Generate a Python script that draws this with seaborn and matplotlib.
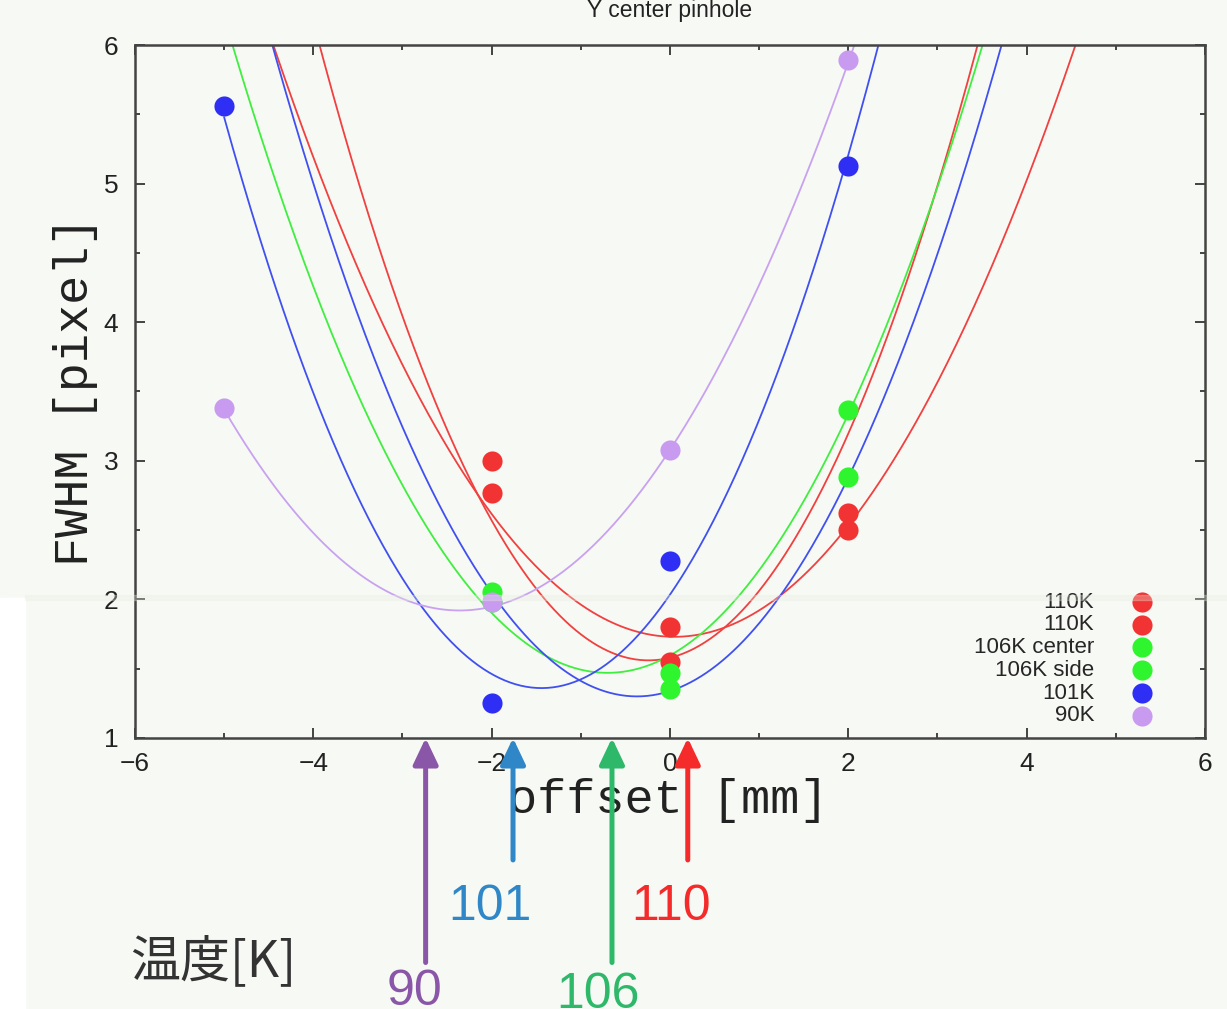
import numpy as np
import matplotlib.pyplot as plt
from matplotlib.ticker import MultipleLocator
from matplotlib.patches import Rectangle
import seaborn as sns

# measured FWHM vs focus offset
x_3pt = [-2, 0, 2]
x_4pt = [-5, -2, 0, 2]
fwhm_110a = [3.00, 1.80, 2.62]
fwhm_110b = [2.77, 1.55, 2.50]
fwhm_106c = [2.05, 1.47, 3.37]
fwhm_106s = [1.98, 1.35, 2.88]
fwhm_101 = [5.56, 1.25, 2.28, 5.13]
fwhm_90 = [3.38, 1.98, 3.08, 5.89]
series_labels = ['110K', '110K', '106K center', '106K side', '101K', '90K']

# parabola fits: vertex x, minimum FWHM, curvature
fit_x0 = [0.05, -0.24, -0.70, -0.37, -1.44, -2.36]
fit_ymin = [1.73, 1.56, 1.47, 1.30, 1.36, 1.92]
fit_curv = [0.211, 0.326, 0.256, 0.281, 0.325, 0.208]
fit_range = (-5, 5)

# best focus per temperature (arrows)
temp_labels = ['90', '101', '106', '110']
temp_best = [-2.74, -1.76, -0.65, 0.20]

bg = '#f7f9f4'
point_colors = ['#f23333', '#f23333', '#2ef52e', '#2ef52e', '#2e2ef5', '#c89bf0']
line_colors = ['#f04040', '#f04040', '#40ee40', '#4050f0', '#4050f0', '#c8a2f0']
arrow_colors = ['#8a56a8', '#2f87c8', '#2db86a', '#f52a2a']

sns.set_style('ticks', rc={'axes.facecolor': bg, 'figure.facecolor': bg})
plt.rcParams['font.family'] = ['Liberation Sans', 'Noto Sans CJK JP', 'DejaVu Sans']

fig = plt.figure(figsize=(12.27, 10.09), dpi=100, facecolor=bg)
ax = fig.add_axes([0.110, 0.2686, 0.872, 0.6868])

# fit curves
xs = np.linspace(fit_range[0], fit_range[1], 500)
for x0, y0, a, c in zip(fit_x0, fit_ymin, fit_curv, line_colors):
    sns.lineplot(x=xs, y=y0 + a * (xs - x0) ** 2, color=c, lw=1.3, ax=ax, legend=False)

# data points
xsets = [x_3pt, x_3pt, x_3pt, x_3pt, x_4pt, x_4pt]
ysets = [fwhm_110a, fwhm_110b, fwhm_106c, fwhm_106s, fwhm_101, fwhm_90]
for xv, yv, lab, c in zip(xsets, ysets, series_labels, point_colors):
    sns.scatterplot(x=xv, y=yv, color=c, s=210, linewidth=0, ax=ax, label=lab, zorder=3)

ax.set_xlim(-6, 6)
ax.set_ylim(1, 6)
ax.xaxis.set_major_locator(MultipleLocator(2))
ax.xaxis.set_minor_locator(MultipleLocator(1))
ax.yaxis.set_major_locator(MultipleLocator(1))
ax.yaxis.set_minor_locator(MultipleLocator(0.5))
ax.tick_params(which='both', direction='in', top=True, right=True, color='#444444', width=1.4,
               labelcolor='#222222', labelsize=19)
ax.tick_params(which='major', length=7.5)
ax.tick_params(which='minor', length=3.8)
ax.tick_params(axis='x', pad=10)
ax.tick_params(axis='y', pad=12)
for sp in ax.spines.values():
    sp.set_color('#444444')
    sp.set_linewidth(1.8)

ax.set_xlabel('offset [mm]', fontfamily='Liberation Mono', fontsize=35, color='#222222')
ax.set_ylabel('FWHM [pixel]', fontfamily='Liberation Mono', fontsize=35, color='#222222')
ax.xaxis.set_label_coords(0.498, -0.058)
ax.yaxis.set_label_coords(-0.035, 0.5)

handles, labels = ax.get_legend_handles_labels()
ax.legend(handles, labels, loc='lower right', bbox_to_anchor=(0.96, 0.007), markerfirst=False,
          frameon=False, prop={'family': 'Liberation Sans', 'size': 16}, handlelength=1.2,
          handletextpad=1.55, labelspacing=0.08, borderpad=0.3, borderaxespad=0, scatterpoints=1)

fig.text(670 / 1227, 1 - 17 / 1009, 'Y center pinhole', ha='center', va='baseline',
         fontsize=16.5, color='#222222')

# arrows marking best focus for each temperature
tails = [-0.62, 0.12, -0.62, 0.12]
label_dx = [-0.12, -0.26, -0.16, -0.19]
label_y = [-0.93, -0.31, -0.95, -0.31]
for xb, lab, c, yt, dx, ly in zip(temp_best, temp_labels, arrow_colors, tails, label_dx, label_y):
    ax.annotate('', xy=(xb, 1.0), xytext=(xb, yt), annotation_clip=False, zorder=5,
                arrowprops=dict(arrowstyle='-|>,head_length=0.8,head_width=0.38', lw=3.6,
                                color=c, mutation_scale=20, shrinkA=0, shrinkB=0))
    ax.text(xb + dx, ly, lab, color=c, fontsize=36, ha='center', va='baseline', clip_on=False)

fig.text(213 / 1227, 1 - 962 / 1009, '温度[K]', ha='center', va='center', fontsize=36,
         color='#333333', family=['Noto Sans CJK JP', 'DejaVu Sans'])

# screenshot artefacts: faint band and white strip
fig.patches.append(Rectangle((0, 0), 25 / 1227, 411 / 1009, transform=fig.transFigure,
                             color='white', zorder=0))
fig.patches.append(Rectangle((25 / 1227, 1 - 600 / 1009), 1, 5 / 1009, transform=fig.transFigure,
                             color='#e8efe2', alpha=0.3, zorder=6))

fig.savefig('out.png', dpi=100, facecolor=bg)
